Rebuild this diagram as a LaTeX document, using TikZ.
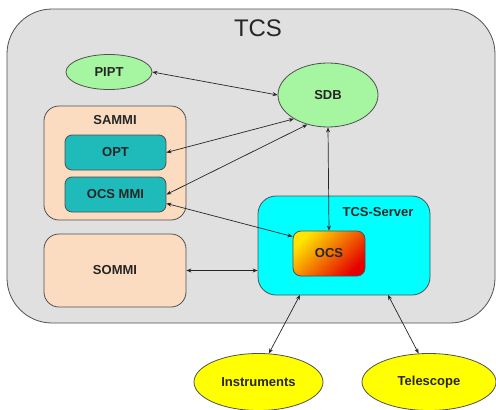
\documentclass[tikz,border=0pt]{standalone}
\usepackage{fontspec}
\setmainfont{Liberation Sans}
\usetikzlibrary{shapes.geometric,arrows.meta}
\definecolor{tcsgray}{HTML}{E0E0E0}
\definecolor{bordergray}{HTML}{505050}
\definecolor{lgreen}{HTML}{A6F5A0}
\definecolor{peach}{HTML}{FCDCC0}
\definecolor{teal}{HTML}{1FBABA}
\definecolor{cyanb}{HTML}{00FFFF}
\definecolor{yel}{HTML}{FFFF00}
\tikzset{
  lbl/.style={font=\fontsize{13}{15}\selectfont\bfseries, text=black!85},
  ell/.style={ellipse, draw=bordergray, line width=0.8pt, inner sep=0pt, lbl},
  rbox/.style={rectangle, draw=bordergray, line width=0.8pt, rounded corners=#1, inner sep=0pt, lbl},
  rbox/.default=8pt,
  link/.style={draw=black!85, line width=0.7pt, {Stealth[length=5pt,width=4pt]}-{Stealth[length=5pt,width=4pt]}}
}
\begin{document}
\begin{tikzpicture}[x=1pt,y=-1pt]
\useasboundingbox[fill=white] (0,0) rectangle (496,410);
% outer TCS box
\node[rbox=45pt, fill=tcsgray, minimum width=488pt, minimum height=314pt] (tcs) at (251,166) {};
\node[font=\fontsize{24}{28}\selectfont, text=black!85] (tcslabel) at (258,28) {TCS};
% ellipses
\node[ell, fill=lgreen, minimum width=86pt, minimum height=35pt] (pipt) at (109,72) {PIPT};
\node[ell, fill=lgreen, minimum width=100pt, minimum height=64pt] (sdb) at (328,95) {SDB};
% SAMMI
\node[rbox=15pt, fill=peach, minimum width=142pt, minimum height=114pt] (sammi) at (115,163) {};
\node[lbl] (sammilabel) at (115,120) {SAMMI};
\node[rbox=7pt, fill=teal, minimum width=101pt, minimum height=35pt] (opt) at (115.5,152.5) {OPT};
\node[rbox=7pt, fill=teal, minimum width=101pt, minimum height=35pt] (ocsmmi) at (115.5,194.5) {OCS MMI};
% SOMMI
\node[rbox=15pt, fill=peach, minimum width=142pt, minimum height=73pt] (sommi) at (115,270.5) {SOMMI};
% TCS-Server
\node[rbox=18pt, fill=cyanb, minimum width=172pt, minimum height=99pt] (server) at (344,245.5) {};
\node[lbl] (serverlabel) at (378,212) {TCS-Server};
\node[rbox=8pt, top color=yellow!80!orange, middle color=orange, bottom color=red!90!black, shading angle=45, minimum width=72pt, minimum height=45pt] (ocs) at (329,253.5) {OCS};
% external
\node[ell, fill=yel, minimum width=129pt, minimum height=57pt] (instr) at (258.5,382) {Instruments};
\node[ell, fill=yel, minimum width=134pt, minimum height=57pt] (tele) at (429,382) {Telescope};
% connectors
\draw[link] (pipt.east) -- (sdb.west);
\draw[link] (sdb.-145) -- (opt.east);
\draw[link] (sdb.-125) -- (ocsmmi.east);
\draw[link] (ocsmmi.-10) -- (ocs.155);
\draw[link] (sdb.south) -- (ocs.north);
\draw[link] (sommi.east) -- (sommi.east -| server.west);
\coordinate (s1) at (300,295);
\coordinate (s2) at (388,295);
\draw[link] (s1) -- (instr.70);
\draw[link] (s2) -- (tele.110);
\end{tikzpicture}
\end{document}
